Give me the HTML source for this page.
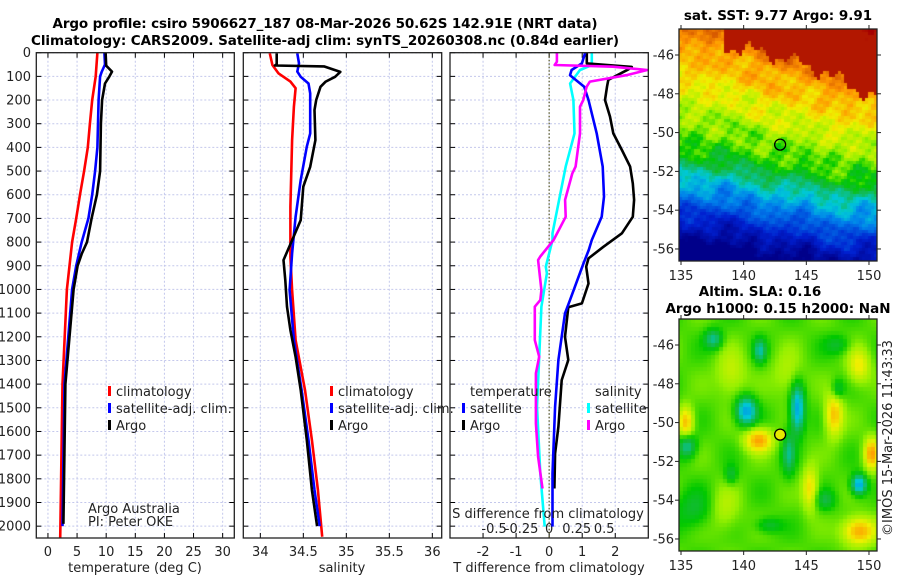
<!DOCTYPE html>
<html><head><meta charset="utf-8">
<style>
html,body{margin:0;padding:0;background:#fff;width:900px;height:580px;overflow:hidden}
#wrap{position:relative;width:900px;height:580px}
canvas{position:absolute}
svg{position:absolute;left:0;top:0}
text{font-family:"DejaVu Sans","Liberation Sans",sans-serif;fill:#222}
.t{font-size:13px}
.b{font-weight:bold;font-size:13.5px;fill:#000}
</style></head>
<body>
<div id="wrap">
<canvas id="sst" width="198" height="232" style="left:679px;top:29px"></canvas>
<canvas id="sla" width="198" height="232" style="left:679px;top:319px"></canvas>
<svg id="fig" width="900" height="580"></svg>
</div>
<script>
// ---- data (depth in m) ----
const tClimDepth=[0,100,200,300,400,500,600,700,800,900,1000,1400,2000,2050];
const tClimVals=[8.5,8.2,7.6,7.2,6.85,6.2,5.5,4.85,4.15,3.7,3.25,2.5,2.14,2.1];
const tSatDepth=[0,50,80,100,200,400,500,600,700,800,900,1000,1400,2000];
const tSatVals=[9.7,9.8,9.25,8.95,8.7,8.5,8.1,7.6,6.95,5.8,4.85,4.15,2.85,2.5];
const tArgoDepth=[0,55,80,100,130,200,300,500,600,700,800,850,900,1000,1400,1990];
const tArgoVals=[9.9,10.0,11.0,10.55,9.8,9.3,9.1,8.95,8.4,7.5,6.7,5.8,5.1,4.4,3.0,2.65];

const sClimDepth=[3,52,87,122,150,228,369,651,862,1003,1214,1425,1636,1847,2045];
const sClimVals=[34.11,34.14,34.21,34.35,34.41,34.39,34.37,34.35,34.35,34.37,34.41,34.52,34.60,34.67,34.72];
const sSatDepth=[3,45,80,102,130,172,341,397,538,693,848,1003,1214,1425,1636,1847,2000];
const sSatVals=[34.43,34.45,34.43,34.47,34.56,34.58,34.58,34.54,34.47,34.41,34.37,34.34,34.39,34.48,34.56,34.63,34.69];
const sArgoDepth=[3,48,54,58,81,102,122,144,200,242,369,482,566,707,792,876,961,1073,1172,1285,1425,1636,1847,2000];
const sArgoVals=[34.19,34.19,34.17,34.74,34.93,34.87,34.76,34.70,34.65,34.63,34.64,34.58,34.50,34.47,34.37,34.27,34.29,34.31,34.35,34.41,34.47,34.54,34.60,34.66];

const dtSatDepth=[0,45,73,95,144,200,341,481,608,693,791,833,890,1045,1101,1298,1495,1777,2002];
const dtSatVals=[1.09,0.99,0.68,0.63,1.06,1.19,1.44,1.62,1.66,1.59,1.29,1.20,1.04,0.63,0.48,0.28,0.18,0.10,0.10];
const dtArgoDepth=[0,45,60,70,115,144,200,270,341,411,481,552,622,693,763,820,869,904,975,1059,1075,1200,1298,1383,1580,1693,1841];
const dtArgoVals=[1.14,1.14,2.5,2.4,1.79,1.75,1.69,1.84,1.94,2.2,2.45,2.53,2.57,2.53,2.2,1.64,1.19,1.12,1.19,0.99,0.58,0.48,0.58,0.38,0.28,0.18,0.16];
const dsSatDepth=[0,52,73,130,200,341,481,622,763,791,904,932,1073,1284,1495,1777,2002];
const dsSatVals=[0.387,0.387,0.28,0.19,0.22,0.23,0.15,0.09,0.03,0.03,-0.03,-0.02,-0.07,-0.09,-0.11,-0.08,-0.04];
const dsArgoDepth=[0,38,52,59,73,95,122,144,200,228,341,481,510,622,693,791,861,876,1003,1045,1073,1214,1284,1354,1566,1707,1841];
const dsArgoVals=[0.07,0.07,0.05,0.58,0.89,0.70,0.37,0.34,0.31,0.28,0.28,0.24,0.21,0.145,0.15,0.04,-0.08,-0.10,-0.07,-0.08,-0.13,-0.13,-0.09,-0.12,-0.12,-0.10,-0.06];

const depthTicks=[0,100,200,300,400,500,600,700,800,900,1000,1100,1200,1300,1400,1500,1600,1700,1800,1900,2000];
const tempTicks=[0,5,10,15,20,25,30];
const salTicks=[34,34.5,35,35.5,36];
const salTickLabels=["34","34.5","35","35.5","36"];
const dtTicks=[-2,-1,0,1,2];
const dsTicks=[-0.5,-0.25,0,0.25,0.5];
const dsTickLabels=["-0.5","-0.25","0","0.25","0.5"];
const latTicks=[-46,-48,-50,-52,-54,-56];
const lonTicks=[135,140,145,150];
const argoLon=142.91, argoLat=-50.62;

// ---- geometry ----
const NS="http://www.w3.org/2000/svg";
const svg=document.getElementById('fig');
const Y0=52.7,Y1=538,DMAX=2050;
const yD=d=>Y0+(Y1-Y0)*d/DMAX;
const panels=[
 {x0:36.3,x1:234.3,lo:-2,hi:32},
 {x0:243.3,x1:441.7,lo:33.802,hi:36.109},
 {x0:450,x1:648.3,lo:-3,hi:3}
];
const sx=(p,v)=>p.x0+(p.x1-p.x0)*(v-p.lo)/(p.hi-p.lo);
const dsScale={lo:-0.9,hi:0.9};
const sxS=v=>panels[2].x0+(panels[2].x1-panels[2].x0)*(v-dsScale.lo)/(dsScale.hi-dsScale.lo);

function el(tag,attrs,parent){const e=document.createElementNS(NS,tag);for(const k in attrs)e.setAttribute(k,attrs[k]);(parent||svg).appendChild(e);return e;}
function txt(x,y,s,cls,anchor,extra){const e=el('text',Object.assign({x:x,y:y,class:cls||'t','text-anchor':anchor||'start'},extra||{}));e.textContent=s;return e;}

panels.forEach((p,i)=>{
  const g=el('g',{});
  
  
  depthTicks.forEach(d=>{
    el('line',{x1:p.x0,x2:p.x1,y1:yD(d),y2:yD(d),stroke:'#c4c8ec','stroke-width':1,'stroke-dasharray':'2,2'},g);
    el('line',{x1:p.x0,x2:p.x0+5,y1:yD(d),y2:yD(d),stroke:'#000','stroke-width':1},g);
    el('line',{x1:p.x1-5,x2:p.x1,y1:yD(d),y2:yD(d),stroke:'#000','stroke-width':1},g);
  });
  const xt=i==0?tempTicks:(i==1?salTicks:dtTicks);
  xt.forEach(v=>{const x=sx(p,v);
    el('line',{x1:x,x2:x,y1:Y0,y2:Y1,stroke:'#c4c8ec','stroke-width':1,'stroke-dasharray':'2,2'},g);
    el('line',{x1:x,x2:x,y1:Y1-5,y2:Y1,stroke:'#000','stroke-width':1},g);
    el('line',{x1:x,x2:x,y1:Y0,y2:Y0+5,stroke:'#000','stroke-width':1},g);
  });
});
depthTicks.forEach(d=>{const t=txt(31,yD(d)+4.5,String(d),'t','end');
  
  });
tempTicks.forEach(v=>{const t=txt(sx(panels[0],v),556,String(v),'t','middle');
  
  });
salTicks.forEach((v,i)=>{const t=txt(sx(panels[1],v),556,salTickLabels[i],'t','middle');
  
  });
dtTicks.forEach(v=>{const t=txt(sx(panels[2],v),556,String(v),'t','middle');
  
  });
dsTicks.forEach((v,i)=>{const t=txt(sxS(v),533,dsTickLabels[i],'t','middle');
  
  });

const zl=el('line',{x1:sx(panels[2],0),x2:sx(panels[2],0),y1:Y0,y2:Y1,stroke:'#555522','stroke-width':1.2,'stroke-dasharray':'1.5,2'});



function series(depths,vals,fx,color,name){
  const pts=depths.map((d,i)=>fx(vals[i]).toFixed(1)+','+yD(d).toFixed(1)).join(' ');
  const pl=el('polyline',{points:pts,fill:'none',stroke:color,'stroke-width':2.6,'stroke-linejoin':'round'});
  
  
}
const P=panels;
series(tClimDepth,tClimVals,v=>sx(P[0],v),'#ff0000','temperature-climatology-line');
series(tSatDepth,tSatVals,v=>sx(P[0],v),'#0000ff','temperature-satellite-line');
series(tArgoDepth,tArgoVals,v=>sx(P[0],v),'#000000','temperature-argo-line');
series(sClimDepth,sClimVals,v=>sx(P[1],v),'#ff0000','salinity-climatology-line');
series(sSatDepth,sSatVals,v=>sx(P[1],v),'#0000ff','salinity-satellite-line');
series(sArgoDepth,sArgoVals,v=>sx(P[1],v),'#000000','salinity-argo-line');
series(dsSatDepth,dsSatVals,sxS,'#00ffff','s-diff-satellite-line');
series(dtArgoDepth,dtArgoVals,v=>sx(P[2],v),'#000000','t-diff-argo-line');
series(dtSatDepth,dtSatVals,v=>sx(P[2],v),'#0000ff','t-diff-satellite-line');
series(dsArgoDepth,dsArgoVals,sxS,'#ff00ff','s-diff-argo-line');

panels.forEach(p=>{el('rect',{x:p.x0,y:Y0,width:p.x1-p.x0,height:Y1-Y0,fill:'none',stroke:'#222','stroke-width':1.3});});

function legend(x,y,color,label,name){
  const g=el('g',{});
  
  
  el('rect',{x:x,y:y-10,width:3,height:10,fill:color},g);
  const t=el('text',{x:x+8,y:y,class:'t'},g);t.textContent=label;
}
legend(108,396,'#ff0000','climatology','legend-climatology');
legend(108,413,'#0000ff','satellite-adj. clim.','legend-satellite-adj');
legend(108,430,'#000000','Argo','legend-argo');
legend(330,396,'#ff0000','climatology','legend-climatology-sal');
legend(330,413,'#0000ff','satellite-adj. clim.','legend-satellite-adj-sal');
legend(330,430,'#000000','Argo','legend-argo-sal');
txt(470,396,'temperature','t','start');
legend(462,413,'#0000ff','satellite','legend-t-satellite');
legend(462,430,'#000000','Argo','legend-t-argo');
txt(595,396,'salinity','t','start');
legend(587,413,'#00ffff','satellite','legend-s-satellite');
legend(587,430,'#ff00ff','Argo','legend-s-argo');
txt(88,513,'Argo Australia','t','start',{'font-size':'11.5px'});
txt(88,526,'PI: Peter OKE','t','start',{'font-size':'11.5px'});
txt(548,518,'S difference from climatology','t','middle',{'font-size':'13.5px'});

txt(135,572,'temperature (deg C)','t','middle',{'font-size':'13.5px'});
txt(342,572,'salinity','t','middle',{'font-size':'13.5px'});
txt(549,572,'T difference from climatology','t','middle',{'font-size':'13.5px'});
txt(325,28,'Argo profile: csiro 5906627_187 08-Mar-2026 50.62S 142.91E (NRT data)','b','middle',{textLength:545});
txt(325,45,'Climatology: CARS2009. Satellite-adj clim: synTS_20260308.nc (0.84d earlier)','b','middle',{textLength:588});

// ---- maps ----
const MX0=679,MX1=877;
const maps=[{y0:29,y1:261,id:'sst'},{y0:319,y1:551,id:'sla'}];
const lonLo=134.84,lonHi=150.64,latHi=-44.66,latLo=-56.62;
const mx=lon=>MX0+(MX1-MX0)*(lon-lonLo)/(lonHi-lonLo);
const myf=(m,lat)=>m.y0+(m.y1-m.y0)*(latHi-lat)/(latHi-latLo);
const cmap=[[0,[0,0,138]],[0.15,[0,32,208]],[0.3,[0,130,235]],[0.4,[0,200,215]],[0.5,[20,185,60]],[0.55,[0,200,0]],[0.62,[150,240,0]],[0.7,[240,240,0]],[0.8,[255,150,0]],[0.88,[215,90,0]],[1,[165,0,0]]];
function col(v){v=Math.max(0,Math.min(1,v));for(let i=1;i<cmap.length;i++){if(v<=cmap[i][0]){const a=cmap[i-1],b=cmap[i],t=(v-a[0])/(b[0]-a[0]);return 'rgb('+a[1].map((c,k)=>Math.round(c+(b[1][k]-c)*t)).join(',')+')';}}return 'rgb(165,0,0)';}
function sstRed(f){
  if(f<0.22) return -10;
  if(f<0.45) return 15+(f-0.22)*40;
  if(f<0.72) return 24+(f-0.45)*60;
  return 42+(f-0.72)*100;
}
(function(){
 const c=document.getElementById('sst').getContext('2d');const S=3;
 for(let y=0;y<232;y+=S)for(let x=0;x<198;x+=S){
   const f=x/198;
   const yb=(f<0.3?120+f*30:(f<0.75?129+(f-0.3)*40:147+(f-0.75)*20))+3*Math.sin(x*0.09)+2*Math.sin(x*0.23+1);
   const yy=y-yb;let v;
   if(yy<0){v=0.55-yy*(0.0022+0.0006*f);} else {v=0.55-yy*0.0062;}
   v+=0.02*Math.sin(x*0.21+y*0.13)+0.02*Math.sin(x*0.07-y*0.19)+0.015*Math.sin(x*0.53+y*0.41)+0.015*Math.sin(x*0.31-y*0.6)+0.02*Math.sin(x*0.11)*Math.sin(y*0.17);
   const rl=sstRed(f)+6*Math.sin(x*0.15)+4*Math.sin(x*0.41+2);
   if(y<rl) v=Math.max(v,0.97);
   c.fillStyle=col(v);c.fillRect(x,y,S,S);}
})();
const blobLon=[140.2,144.3,143.6,135.5,149.2,137.6,141.3,139,142,146.5,147.5,136,147.5,141.2,135.4,147.2,150.2,149.2,149.2,145.3,139,143.5,138.5];
const blobLat=[-49.4,-49.3,-51.6,-51.2,-53.2,-45.7,-46.3,-52.7,-55.3,-54,-48.3,-54.5,-46,-50.9,-50,-49.6,-51.6,-55.6,-47.1,-53.4,-47.5,-47.5,-54.5];
const blobAmp=[-0.24,-0.24,-0.12,-0.15,-0.24,-0.14,-0.14,-0.08,-0.08,-0.08,-0.09,-0.07,-0.07,0.2,0.17,0.17,0.2,0.2,0.12,0.14,0.08,0.06,0.06];
(function(){
 const c=document.getElementById('sla').getContext('2d');const S=4;
 const sxs=[0.8,0.55,0.5,0.7,0.6,0.7,0.5,0.5,1,0.8,0.5,1.5,1,1.1,0.6,0.7,0.6,1.3,0.9,0.6,1.2,1.2,1.2];
 const sys=[0.7,1.2,1.1,0.6,0.5,0.5,0.6,0.5,0.4,0.5,0.5,1,0.5,0.6,0.8,1.1,0.8,0.7,0.9,1.1,1.2,1.2,1.2];
 for(let y=0;y<232;y+=S)for(let x=0;x<198;x+=S){
   const lon=lonLo+(x+2)/198*(lonHi-lonLo),lat=latHi-(y+2)/232*(latHi-latLo);
   let v=0.585+0.02*Math.sin(lon*1.3)*Math.cos(lat*1.7);
   for(let i=0;i<blobLon.length;i++){const a=(lon-blobLon[i])/sxs[i],b=(lat-blobLat[i])/sys[i];v+=blobAmp[i]*Math.exp(-(a*a+b*b));}
   c.fillStyle=col(v);c.fillRect(x,y,S,S);}
})();
maps.forEach((m,mi)=>{
  const r=el('rect',{x:MX0,y:m.y0,width:MX1-MX0,height:m.y1-m.y0,fill:'none',stroke:'#222','stroke-width':1.3});
  
  
  latTicks.forEach(l=>{const y=myf(m,l);
    el('line',{x1:MX0-4,x2:MX0,y1:y,y2:y,stroke:'#222'});el('line',{x1:MX1,x2:MX1+4,y1:y,y2:y,stroke:'#222'});
    const t=txt(MX0-5,y+4.5,String(l),'t','end');
    
    });
  lonTicks.forEach(l=>{const x=mx(l);
    el('line',{x1:x,x2:x,y1:m.y1,y2:m.y1+4,stroke:'#222'});el('line',{x1:x,x2:x,y1:m.y0-4,y2:m.y0,stroke:'#222'});
    const t=txt(x,m.y1+19,String(l),'t','middle');
    
    });
  const c=el('circle',{cx:mx(argoLon),cy:myf(m,argoLat),r:5.5,fill:mi?'#e8e800':'none',stroke:'#000','stroke-width':1.3});
  
  
});
txt(778,20,'sat. SST: 9.77 Argo: 9.91','b','middle');
txt(760,296,'Altim. SLA: 0.16','b','middle');
txt(778,313,'Argo h1000: 0.15 h2000: NaN','b','middle');
txt(0,0,'©IMOS 15-Mar-2026 11:43:33','t','middle',{transform:'translate(892,438) rotate(-90)','font-size':'13.5px'});
</script>
</body></html>
